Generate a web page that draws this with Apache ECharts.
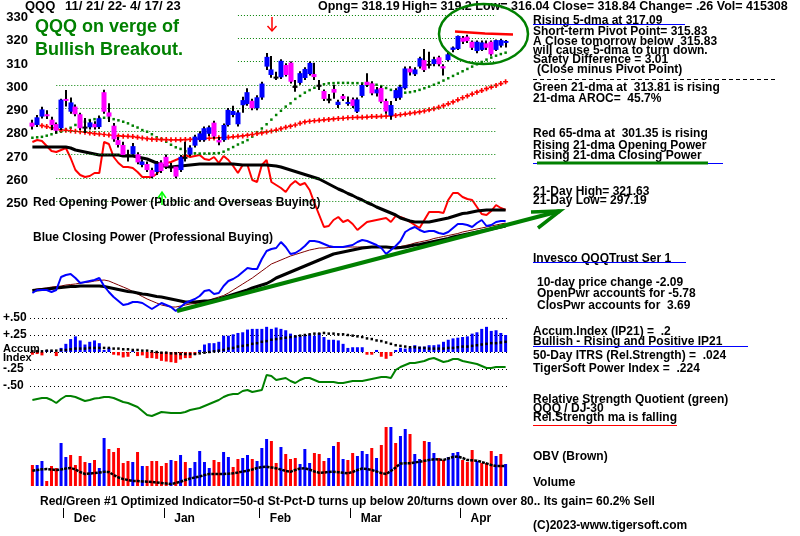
<!DOCTYPE html>
<html><head><meta charset="utf-8">
<script src="https://cdn.jsdelivr.net/npm/echarts@6/dist/echarts.min.js"></script>
<style>html,body{margin:0;padding:0;background:#fff}#c{width:800px;height:536px}</style>
</head><body><div id="c"></div>
<script>
// ---------------- DATA ----------------
const dates = ('11/21 11/22 11/23 11/25 11/28 11/29 11/30 ' +
 '12/1 12/2 12/5 12/6 12/7 12/8 12/9 12/12 12/13 12/14 12/15 12/16 12/19 12/20 12/21 12/22 12/23 12/27 12/28 12/29 12/30 ' +
 '1/3 1/4 1/5 1/6 1/9 1/10 1/11 1/12 1/13 1/17 1/18 1/19 1/20 1/23 1/24 1/25 1/26 1/27 1/30 1/31 ' +
 '2/1 2/2 2/3 2/6 2/7 2/8 2/9 2/10 2/13 2/14 2/15 2/16 2/17 2/21 2/22 2/23 2/24 2/27 2/28 ' +
 '3/1 3/2 3/3 3/6 3/7 3/8 3/9 3/10 3/13 3/14 3/15 3/16 3/17 3/20 3/21 3/22 3/23 3/24 3/27 3/28 3/29 3/30 3/31 ' +
 '4/3 4/4 4/5 4/6 4/10 4/11 4/12 4/13 4/14 4/17').split(' ');

const openP = [283.7,282.7,286.3,287.3,285.0,283.1,281.3,293.9,288.4,290.6, 287.3,282.0,281.7,283.2,281.8,296.8,288.1,282.4,276.2,274.1, 270.0,270.1,270.1,265.5,265.9,263.3,262.5,266.6,269.0,265.0, 264.8,263.3,269.0,270.0,273.8,276.2,276.2,278.9,283.7,276.2, 276.2,282.7,287.0,283.0,291.2,291.7,293.1,289.9,294.5,307.8, 304.2,303.5,303.2,308.5,309.5,299.5,300.8,302.9,304.6,304.6, 300.0,297.3,294.0,298.2,291.3,295.2,292.0,293.7,288.4,295.2, 301.3,300.6,296.3,298.6,293.0,286.7,294.2,294.4,298.5,307.0, 304.5,307.8,310.6,309.0,308.9,311.8,308.0,310.6,315.0,315.4, 320.2,320.7,318.5,314.5,315.0,317.8,318.5,315.0,316.8,318.19];
const closeP = [282.0,286.0,289.4,286.7,282.7,280.2,293.6,293.5,292.4,287.3, 281.3,282.0,283.8,281.7,285.6,288.4,286.3,276.5,274.1,269.8, 270.0,273.6,266.6,267.0,263.3,260.5,266.0,262.9,264.8,265.0, 260.5,269.0,269.0,273.0,277.7,279.1,281.3,281.7,277.7,275.2, 282.7,289.2,288.7,288.1,293.4,296.8,289.9,294.6,300.5,312.0, 306.6,303.5,310.3,304.2,301.3,299.5,305.0,306.8,309.4,303.3, 300.0,293.9,294.0,296.6,292.7,293.9,292.6,290.9,293.7,299.9, 299.9,296.3,298.0,292.7,288.5,291.3,297.7,299.2,307.0,305.3, 306.6,311.4,306.3,309.0,311.0,308.8,307.0,313.1,316.0,321.0, 318.5,318.8,315.9,318.5,318.2,315.9,313.1,319.2,319.2,318.84];
const lowP = [280.8,281.8,285.5,285.3,280.5,279.0,280.5,290.6,287.5,286.5, 280.5,279.2,280.8,280.8,281.0,287.5,284.0,275.5,273.0,269.0, 267.0,269.5,265.8,264.5,262.5,259.8,261.2,262.0,263.8,262.5, 259.8,262.5,267.0,269.3,273.0,275.5,275.5,278.0,276.8,274.0, 275.5,282.0,286.0,282.0,288.0,291.0,289.0,289.0,293.5,306.3, 303.0,302.0,302.5,303.5,300.5,297.0,300.0,302.0,304.0,302.0, 297.7,293.0,292.0,294.0,290.0,293.0,291.0,290.0,287.8,294.5, 299.0,295.5,295.0,292.0,287.5,285.0,293.0,293.5,298.0,304.0, 303.8,307.0,305.5,307.0,308.0,308.0,304.0,310.0,314.0,315.0, 317.5,318.0,315.0,313.5,314.5,315.0,312.5,314.5,316.0,316.04];
const highP = [285.0,287.0,290.5,289.0,286.2,283.8,294.0,297.7,294.5,291.5, 288.0,285.7,285.0,284.3,286.8,297.8,292.0,283.5,277.5,275.5, 272.0,275.0,271.0,268.0,267.0,264.3,267.2,267.5,270.0,266.3, 265.5,269.8,275.5,274.0,278.5,280.0,282.0,282.5,284.5,277.5, 283.3,290.0,291.0,289.0,294.8,298.5,294.0,295.5,301.3,313.7, 312.4,305.6,311.0,309.3,310.0,302.0,305.8,307.5,310.0,309.5, 302.0,298.0,296.0,300.0,293.5,296.0,295.0,294.5,294.5,300.5, 305.0,301.5,299.0,299.5,294.0,293.0,298.5,300.0,307.8,308.0, 307.5,312.0,315.4,314.2,312.0,312.5,308.8,314.0,316.5,321.2, 321.0,321.5,319.0,319.0,319.0,319.0,319.0,319.5,319.8,319.2];

const ma21 = [277.2,277.4,277.6,278.1,278.7,279.4,279.8,280.8,281.5,282.7, 283.4,284.1,284.8,285.2,285.6,285.8,285.8,285.2,284.7,284.1, 283.4,282.4,281.6,280.5,279.8,278.7,277.4,276.7,275.5,274.2, 273.1,272.4,271.4,270.8,270.5,270.4,270.4,270.4,270.5,270.6, 271.2,272.2,273.2,274.3,275.2,276.2,277.7,279.6,281.2,283.0, 285.0,287.0,288.8,290.6,292.0,293.9,295.2,296.6,297.7,298.7, 299.5,300.2,300.6,300.7,300.8,300.8,300.8,300.7,300.7,300.6, 300.5,300.3,300.0,299.4,298.6,297.8,297.1,296.7,296.6,296.8, 297.2,297.8,298.5,299.2,300.0,300.8,301.8,302.8,303.8,304.8, 305.8,306.8,307.8,308.8,309.8,310.8,311.7,312.5,313.2,313.8];
const ma65 = [null,null,282.4,282.0,281.5,281.0,280.6,280.4,280.2,280.0, 279.8,279.6,279.3,279.0,278.8,278.6,278.4,278.2,278.0,277.9, 277.8,277.7,277.4,277.1,276.8,276.6,276.5,276.4,276.4,276.3, 276.3,276.3,276.4,276.5,276.6,276.7,276.9,277.0,277.1,277.2, 277.3,277.4,277.6,277.8,278.0,278.3,278.6,279.0,279.3,279.7, 280.1,280.5,281.1,281.7,282.2,282.7,283.4,284.0,284.3,284.5, 284.7,284.9,285.1,285.3,285.5,285.6,285.8,285.9,286.0,286.0, 286.1,286.3,286.3,286.4,286.5,286.6,286.8,287.1,287.4,287.7, 288.0,288.3,288.7,289.2,289.7,290.3,291.0,291.8,292.6,293.5, 294.4,295.2,296.0,296.8,297.5,298.3,299.0,299.7,300.5,301.3];
const priceGridLevels = [250,260,270,280,290,300,310,320,330];

// Opening / Closing power (relative units)
const openPower = [178,180,179,174,169,168,170,172,162,150, 145,143,144,147,147,178,176,163,157,153, 153,152,148,143,143,143,146,152,157,158, 160,162,165,163,164,165,161,160,163,157, 164,160,154,147,155,155,140,138,155,160, 138,135,132,128,135,139,135,137,130,117, 105,93,94,100,103,98,100,96,90,94, 98,99,100,101,102,98,104,103,101,98, 95,92,100,108,108,108,107,120,127,127, 123,121,120,113,106,105,109,115,112,110];
const openPowerMa = [173,173,173,173,173,173,173,173,172,170, 169,168,167,166,165,165,165,165,165,164, 164,164,163,162,161,159,157,155,153.5,153, 153.5,154,154.5,155,155.5,156,156,156,156,156, 156,156,156,155.5,155,155,155,155,155,155, 154.5,154,153,151.5,150,148.5,147,145.5,144,142.5, 141,138.5,136,133.5,131,129,126.5,124.5,122,120, 117.5,115.5,113,111,109,107,105,102,100.5,99, 98,98,98,98,99,100,101,102,103.5,105, 106.5,107,108,109,109.5,110,110,110,110,110];
const closePower = [27,30,30,30,28,30,43,45,46,42, 37,38,39,40,42,34,28,23,19,15, 16,18,18,17,14,11,14,17,15,13, 9,13,17,19,21,24,29,30,26,27, 34,39,41,44,48,52,51,51,61,69, 71,72,78,73,66,67,70,74,79,79, 78,76,74,73,73,73,74,75,78,80, 79,77,75,72,66,70,74,79,88,91, 93,90,88,89,89,87,86,88,92,96, 96,95,93,97,100,94,95,98,99,99];
const closePowerMa21 = [30,31,31.5,32,33,33.5,34,35,35.5,36, 37,37.5,38,39,39.5,40,39,37,35,33, 31,28.5,26,23.5,21,19,17,15,14,13, 13,14,15,16,16.5,17,18.5,20,21.5,23, 24.5,27,30,33,36,39,42,45.5,49,52.5, 56,58,60,62,64,65.5,67,68.5,70,71, 72,72,72.5,72.5,73,73,73,73,73,73, 73,73,73,73,73,73,73,73.5,74.5,75.5, 77,78,79,80,81.5,82.5,83.5,84.5,85.5,86.5, 88,89,90,91,92,93,94,95,96,97];
const closePowerMa65 = [29.5,30,30.5,31,31.5,32,32.5,33,33.5,33.5, 34,34,34,34,34,33.5,32.5,31.5,30.5,29.5, 28.5,28,27,26,25.5,24.5,23.5,23,22,21, 20,19,18,18,18,18.5,19,19,20,21, 22.5,24,25.5,27,28.5,30,32,33.5,35,36.5, 39,42,44,46,48,50,52,54,56,58, 60,62,64,66,67,68,69,70,71,72, 72.5,73,73,73,73,72.5,72,72.5,73,74, 75,75.5,76.5,77.5,78.5,79.5,80.5,81.5,83,84, 85,86,87,88,89,90,91,92,93,94];

// Accumulation index (IP21) and its MA
const accum = [-0.04,-0.03,-0.05,0.03,0.02,-0.06,0.06,0.12,0.19,0.23, 0.17,0.11,0.15,0.17,0.13,0.03,0.06,-0.04,-0.05,-0.08, -0.07,0.02,-0.06,-0.05,-0.09,-0.09,-0.1,-0.13,-0.14,-0.15, -0.16,-0.11,-0.09,-0.09,-0.04,0.03,0.11,0.13,0.13,0.15, 0.24,0.24,0.26,0.28,0.29,0.33,0.34,0.34,0.34,0.37, 0.34,0.36,0.34,0.32,0.27,0.24,0.23,0.24,0.26,0.24, 0.28,0.22,0.18,0.18,0.17,0.12,0.06,0.07,0.07,0.07, -0.04,-0.04,0.03,-0.07,-0.1,-0.06,0.03,0.06,0.05,0.06, 0.1,0.08,0.08,0.1,0.1,0.11,0.15,0.18,0.2,0.21, 0.22,0.23,0.27,0.29,0.34,0.37,0.31,0.32,0.28,0.25];
const accumMa = [0.01,0.01,0.01,0.02,0.02,0.02,0.03,0.03,0.04,0.05, 0.05,0.05,0.06,0.06,0.06,0.06,0.06,0.05,0.05,0.04, 0.04,0.03,0.03,0.02,0.02,0.01,0.0,-0.01,-0.01,-0.02, -0.02,-0.03,-0.03,-0.03,-0.03,-0.02,-0.01,0.0,0.01,0.02, 0.03,0.05,0.06,0.08,0.09,0.1,0.12,0.13,0.15,0.16, 0.18,0.19,0.2,0.21,0.22,0.23,0.24,0.25,0.26,0.27, 0.27,0.28,0.27,0.27,0.26,0.26,0.25,0.24,0.23,0.22, 0.2,0.19,0.17,0.16,0.14,0.12,0.1,0.09,0.08,0.07, 0.07,0.06,0.06,0.05,0.05,0.05,0.05,0.06,0.06,0.07, 0.08,0.08,0.09,0.1,0.11,0.12,0.13,0.13,0.14,0.15];

// Relative strength quotient QQQ / DJ-30 (relative units)
const relStrength = [20,21,22,22,20,17,21,24,24,23, 21,19,20,21.5,22,23,23,22,20,18, 17,15,13,9,5,4,6,8,7.5,7, 7,7,8,10,11,12,14,16,18,20, 23,25,26,26,29,30,28,29,30,45, 44,40,41,42,39,37,40,42,42,40, 38,38,38,38,37,37,38,39,39,39, 40,41,42,43,43,42,50,53,55,57, 57,58,59,61,62,60,58,59,61,61, 59,58,57,56,54,52,52,53,53,53];

// Volume (relative units), up-day flags, OBV (relative)
const volume = [21,21,25,5,20,18,43,29,31,21, 30,24,23,26,18,48,37,34,38,23, 25,24,34,20,20,25,25,20,23,26, 25,31,24,18,24,35,24,18,26,24, 34,29,19,27,28,31,27,25,38,47, 45,23,39,32,27,28,22,37,23,33, 32,25,28,40,44,27,26,33,30,35, 32,38,28,41,59,59,43, 50,57,52,32,27,45,44,33,28,26,29,33,34,26,24,36,25,23,23,35,30,32,22];
const volumeUp = ('0110001100'+'0010110000'+'0101000001'+'0101111100'+'1100110111'+'0010001110'+'0011010011'+'1010010'+'11011011001110001000101').split('').map(Number);
const obv = [15.3,16,16.7,17,16.5,16,16.5,17.5,18,16.5, 14,12,12.5,13,13.5,14.2,14,11,8.5,7, 6,5,5,4.5,4.3,4,3.5,3,2.5,2, 3,4.3,6,7.5,8.5,9.5,11,12,12,12, 12,12.3,12.7,13.5,14.5,15.3,16.5,18,19,19.3, 18.5,17.7,16.5,15,14.3,16,17.5,17.7,16.5,14.5, 13.3,13.5,14,14.3,13.8,13.3,12.7,14,16,17.5, 17,16,14.5,13,12,15,18.5,22.5,22.7,22.7, 23.5,24.3,25.2,26,26.7,26.5,26,27.5,29,29.5, 28,26,25.7,25.3,24,22.5,21,20,20,20];

const monthNames = ['Dec','Jan','Feb','Mar','Apr'];
const monthStartIdx = [7,28,48,67,90];

// ---------------- CHART ----------------
const FONT = '"Liberation Sans", Arial, sans-serif';
const chart = echarts.init(document.getElementById('c'), null, {renderer:'canvas'});
const candleData = dates.map((d,i)=>[i, openP[i], closeP[i], lowP[i], highP[i]]);

function renderCandle(params, api){
  const i = api.value(0), o = api.value(1), c = api.value(2), l = api.value(3), h = api.value(4);
  const pl = api.coord([i,l]), ph = api.coord([i,h]), po = api.coord([i,o]), pc = api.coord([i,c]);
  const x = Math.round(pl[0]);
  const col = Math.abs(c-o) < 0.05 ? '#000000' : (c > o ? '#0000ff' : '#ff00ff');
  const top = Math.min(po[1], pc[1]);
  const ht = Math.max(Math.abs(po[1]-pc[1]), 2);
  return {type:'group', children:[
    {type:'line', shape:{x1:x, y1:ph[1], x2:x, y2:pl[1]}, style:{stroke:'#000', lineWidth:2}},
    {type:'rect', shape:{x:x-2.5, y:top, width:5, height:ht}, style:{fill:col}}
  ]};
}

const G = {left:30, width:478};
const hiddenX = k => ({type:'category', gridIndex:k, data:dates, show:false});

const option = {
  animation:false,
  backgroundColor:'#ffffff',
  textStyle:{fontFamily:FONT},
  grid:[
    Object.assign({top:15, height:186}, G),
    Object.assign({top:100, height:220}, G),
    Object.assign({top:318, height:68}, G),
    Object.assign({top:350, height:70}, G),
    Object.assign({top:420, height:66}, G)
  ],
  xAxis:[hiddenX(0),hiddenX(1),hiddenX(2),hiddenX(3),hiddenX(4)],
  yAxis:[
    {gridIndex:0, type:'value', min:250, max:330, interval:10,
      axisLine:{show:false}, axisTick:{show:false}, splitLine:{show:false}, axisLabel:{show:false}},
    {gridIndex:1, type:'value', min:0, max:220, show:false},
    {gridIndex:2, type:'value', min:-0.5, max:0.5, interval:0.25,
      axisLine:{show:false}, axisTick:{show:false},
      splitLine:{show:true, lineStyle:{color:'#000', type:[1,3], width:1}},
      axisLabel:{align:'left', margin:27, color:'#000', fontWeight:'bold', fontSize:12, fontFamily:FONT,
        formatter:v => v===0 ? '' : (v>0?'+':'-') + '.' + String(Math.round(Math.abs(v)*100)).padStart(2,'0')}},
    {gridIndex:3, type:'value', min:0, max:70, show:false},
    {gridIndex:4, type:'value', min:0, max:66, show:false}
  ],
  series:[
    {type:'custom', xAxisIndex:0, yAxisIndex:0, data:candleData, encode:{x:0, y:[1,2,3,4]}, renderItem:renderCandle, z:5},
    {type:'line', xAxisIndex:0, yAxisIndex:0, data:ma21, showSymbol:true, showAllSymbol:true, symbol:'rect', symbolSize:2.5,
      itemStyle:{color:'#008000'}, lineStyle:{opacity:0}, z:4,
      markLine:{silent:true, symbol:['none','none'], label:{show:false},
        lineStyle:{color:'#008000', type:[1,2], width:1},
        data: priceGridLevels.map(p => [{coord:[dates[p>=310?43:5], p]}, {coord:[dates[97], p]}])}},
    {type:'line', xAxisIndex:0, yAxisIndex:0, data:ma65, showSymbol:true, showAllSymbol:true,
      symbol:'path://M2,0H4V2H6V4H4V6H2V4H0V2H2Z', symbolSize:5,
      itemStyle:{color:'#ff0000'}, lineStyle:{opacity:0}, z:4},
    {type:'line', xAxisIndex:1, yAxisIndex:1, data:openPower, symbol:'none', lineStyle:{color:'#ff0000', width:2}, z:3},
    {type:'line', xAxisIndex:1, yAxisIndex:1, data:openPowerMa, symbol:'none', lineStyle:{color:'#000000', width:3}, z:3},
    {type:'line', xAxisIndex:1, yAxisIndex:1, data:closePowerMa21, symbol:'none', lineStyle:{color:'#800000', width:1}, z:3},
    {type:'line', xAxisIndex:1, yAxisIndex:1, data:closePowerMa65, symbol:'none', lineStyle:{color:'#000000', width:3}, z:3},
    {type:'line', xAxisIndex:1, yAxisIndex:1, data:closePower, symbol:'none', lineStyle:{color:'#0000ff', width:2}, z:3},
    {type:'bar', xAxisIndex:2, yAxisIndex:2, barWidth:3,
      data: accum.map(v => ({value:v, itemStyle:{color: v>=0 ? '#0000ff' : '#ff0000'}})), z:3},
    {type:'line', xAxisIndex:2, yAxisIndex:2, data:accumMa, showSymbol:true, showAllSymbol:true, symbol:'rect', symbolSize:2.5,
      itemStyle:{color:'#000'}, lineStyle:{opacity:0}, z:4},
    {type:'line', xAxisIndex:3, yAxisIndex:3, data:relStrength, symbol:'none', lineStyle:{color:'#008000', width:2}, z:3},
    {type:'bar', xAxisIndex:4, yAxisIndex:4, barWidth:3,
      data: volume.map((v,i) => ({value:v, itemStyle:{color: volumeUp[i] ? '#0000ff' : '#ff0000'}})), z:3},
    {type:'line', xAxisIndex:4, yAxisIndex:4, data:obv, symbol:'none', lineStyle:{color:'#000000', width:2.5, type:[3,1]}, z:4}
  ]
};
chart.setOption(option);

// ---------------- ANNOTATIONS ----------------
const F12 = 'bold 12px ' + FONT;
function T(x, y, s, font, fill, align){
  return {type:'text', x:x, y:y, z:100, silent:true,
    style:{text:s, font:font||F12, fill:fill||'#000', textAlign:align||'left', textVerticalAlign:'middle', align:align||'left', verticalAlign:'middle'}};
}
function L(x1,y1,x2,y2,stroke,w,dash){
  return {type:'line', z:100, silent:true, shape:{x1,y1,x2,y2}, style:{stroke, lineWidth:w, lineDash:dash||null}};
}
function P(pts,stroke,w){
  return {type:'polyline', z:100, silent:true, shape:{points:pts}, style:{stroke, lineWidth:w, fill:null}};
}
const els = [];
// header
els.push(T(25, 6.5, 'QQQ', 'bold 13px ' + FONT));
els.push(T(65, 6.5, '11/ 21/ 22- 4/ 17/ 23', 'bold 13px ' + FONT));
els.push(T(318, 6.5, 'Opng= 318.19', 'bold 12.5px ' + FONT));
els.push(T(402, 6.5, 'High= 319.2 Low= 316.04 Close= 318.84 Change= .26 Vol= 415308', 'bold 12.5px ' + FONT));
// big green headline
els.push(T(35, 27, 'QQQ on verge of', 'bold 18px ' + FONT, '#008000'));
els.push(T(35, 50, 'Bullish Breakout.', 'bold 18px ' + FONT, '#008000'));
// panel labels
els.push(T(33, 202.5, 'Red Opening Power (Public and Overseas Buying)'));
els.push(T(33, 238, 'Blue Closing Power (Professional Buying)'));
els.push(T(3, 348.5, 'Accum', 'bold 11px ' + FONT));
els.push(T(3, 357.5, 'Index', 'bold 11px ' + FONT));
// right column
[[533,20.5,'Rising 5-dma at 317.09'],[533,31.5,'Short-term Pivot Point= 315.83'],[533,41.8,'A Close tomorrow below  315.83'],
 [533,50.8,'will cause 5-dma to turn down.'],[533,59.5,'Safety Difference = 3.01'],[537,69.5,'(Close minus Pivot Point)'],
 [533,88,'Green 21-dma at  313.81 is rising'],[533,98.5,'21-dma AROC=  45.7%'],[533,134,'Red 65-dma at  301.35 is rising'],
 [533,146,'Rising 21-dma Opening Power'],[533,156,'Rising 21-dma Closing Power'],[533,191.3,'21-Day High= 321.63'],
 [533,201,'21-Day Low= 297.19'],[533,258.5,'Invesco QQQTrust Ser 1'],[537,282.5,'10-day price change -2.09'],
 [537,293.5,'OpenPwr accounts for -5.78'],[537,305.5,'ClosPwr accounts for  3.69'],[533,331.7,'Accum.Index (IP21) =  .2'],
 [533,341.3,'Bullish - Rising and Positive IP21'],[533,355.8,'50-Day ITRS (Rel.Strength) =  .024'],
 [533,369,'TigerSoft Power Index =  .224'],[533,399.5,'Relative Strength Quotient (green)'],[533,408.5,'QQQ / DJ-30'],
 [533,418,'Rel.Strength ma is falling'],[533,456.7,'OBV (Brown)'],[533,482.3,'Volume'],[533,525.7,'(C)2023-www.tigersoft.com']
].forEach(a => els.push(T(a[0], a[1], a[2])));
els.push(T(40, 501.3, 'Red/Green #1 Optimized Indicator=50-d St-Pct-D turns up below 20/turns down over 80.. Its gain= 60.2% Sell'));
// underlines and separators
els.push(L(533,24.5,685,24.5,'#0000ff',1));
els.push(L(533,79.5,777,79.5,'#000',1,[4,3]));
els.push(L(533,163.5,723,163.5,'#0000ff',1));
els.push(L(537,163,708,163,'#008000',3));
els.push(L(533,262.5,686,262.5,'#0000ff',1));
els.push(L(533,346.5,748,346.5,'#0000ff',1));
els.push(L(533,425.5,677,425.5,'#ff0000',1));
// drawn annotations
els.push({type:'ellipse', z:100, silent:true, shape:{cx:483.5, cy:34, rx:44.5, ry:30}, style:{fill:null, stroke:'#008000', lineWidth:2.5}});
els.push(P([[455,31.5],[485,33.5],[513,34.5]],'#ff0000',2.5));
els.push(L(272,17,272,31,'#ff0000',1.5));
els.push(P([[267.5,26],[272,31],[276.5,26]],'#ff0000',1.5));
els.push(P([[158,198],[162,192],[166,198]],'#00ff00',1.5));
els.push(L(162,192,162,205,'#00ff00',1.5));
els.push(P([[177,311],[560,211]],'#008000',4));
els.push(P([[531,212],[560,211],[538,228]],'#008000',3.5));
// price tick labels placed through the price axis scale
priceGridLevels.forEach(v => {
  const py = chart.convertToPixel({yAxisIndex:0}, v);
  els.push(T(28, py + 2.5, String(v), 'bold 13px ' + FONT, '#000', 'right'));
});
// month ticks / labels from the category axis scale
const bw = chart.convertToPixel({xAxisIndex:4}, dates[1]) - chart.convertToPixel({xAxisIndex:4}, dates[0]);
monthStartIdx.forEach((mi,k) => {
  const cx = chart.convertToPixel({xAxisIndex:4}, dates[mi]);
  const tx = Math.round(cx - bw/2) + 0.5;
  els.push(L(tx,508,tx,518,'#000',1));
  els.push(T(cx + 8, 519, monthNames[k]));
});
chart.setOption({graphic:{elements:els}});
</script>
</body></html>
